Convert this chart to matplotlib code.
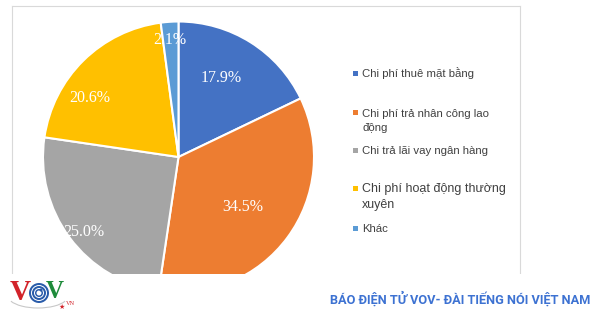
import matplotlib.pyplot as plt
import numpy as np
from matplotlib.patches import Rectangle, Ellipse, Arc
from matplotlib.lines import Line2D

labels = ['Chi phí thuê mặt bằng',
          'Chi phí trả nhân công lao\nđộng',
          'Chi trả lãi vay ngân hàng',
          'Chi phí hoạt động thường\nxuyên',
          'Khác']
shares = [17.9, 34.5, 25.0, 20.6, 2.1]
colors = ['#4472C4', '#ED7D31', '#A5A5A5', '#FFC000', '#5B9BD5']
footer = 'BÁO ĐIỆN TỬ VOV- ĐÀI TIẾNG NÓI VIỆT NAM'

# percentage label placement: (fraction of radius, angle shift from bisector in deg)
label_pos = [(0.66, 3.6), (0.6, -1.5), (0.89, 2.0), (0.785, 11.8), (0.866, 0.4)]
# legend first-line centres (px from top) and font sizes
legend_y = [73, 112, 150, 188, 228]
legend_fs = [8.2, 8.2, 8.2, 9.0, 8.2]

W, H = 600, 315
fig = plt.figure(figsize=(6, 3.15), dpi=100)
fig.patch.set_facecolor('white')


def fx(px):
    return px / W


def fy(py):
    return 1 - py / H


# pie placement in pixels
cx, cy, r = 178.5, 157, 135.5
pad = 1.03
ax = fig.add_axes([fx(cx - r * pad), fy(cy + r * pad), 2 * r * pad / W, 2 * r * pad / H])
wedges, _, autotexts = ax.pie(
    shares, colors=colors, startangle=90, counterclock=False,
    autopct='%.1f%%',
    wedgeprops=dict(edgecolor='white', linewidth=1.5),
    textprops=dict(color='white', family='Liberation Serif', fontsize=11.5))
for w, t, (d, shift), v in zip(wedges, autotexts, label_pos, shares):
    mid = np.deg2rad((w.theta1 + w.theta2) / 2 + shift)
    t.set_position((d * np.cos(mid), d * np.sin(mid)))
    t.set_text(f'{v:.1f}%')
    t.set_ha('center')
    t.set_va('center')
ax.set_xlim(-pad, pad)
ax.set_ylim(-pad, pad)

# chart frame (bottom is cut off by the screenshot)
fc = '#d9d9d9'
fig.add_artist(Line2D([fx(11.5), fx(11.5)], [fy(6), fy(274)], color=fc, lw=0.8))
fig.add_artist(Line2D([fx(11.5), fx(520)], [fy(6), fy(6)], color=fc, lw=0.8))
fig.add_artist(Line2D([fx(520), fx(520)], [fy(6), fy(274)], color=fc, lw=0.8))

# white strip hiding the bottom of the pie
fig.add_artist(Rectangle((0, 0), 1, fy(274), transform=fig.transFigure,
                         facecolor='white', edgecolor='none', zorder=5))

# legend (baseline alignment uses the last line of a wrapped label)
for lab, yy, fs, c in zip(labels, legend_y, legend_fs, colors):
    fig.add_artist(Rectangle((fx(353), fy(yy + 2.5)), 5 / W, 5 / H,
                             transform=fig.transFigure, facecolor=c,
                             edgecolor='none', zorder=6))
    extra = lab.count('\n') * fs * 1.82
    fig.text(fx(362), fy(yy + 4 + extra), lab, ha='left', va='baseline',
             fontsize=fs, family='Liberation Sans', color='#404040',
             linespacing=1.45, zorder=6)

# footer
fig.text(fx(590), fy(299), footer, ha='right', va='center', fontsize=9.2,
         fontweight='bold', family='Roboto', color='#3d72d2', zorder=6)

# VOV logo
fig.text(fx(20), fy(293), 'V', ha='center', va='center', fontsize=21,
         fontweight='bold', family='Liberation Serif', color='#d2232a', zorder=7)
for rr, col in [(10, '#2a5caa'), (8, 'white'), (7, '#2a5caa'), (5, 'white'),
                (4, '#2a5caa'), (2.5, 'white')]:
    fig.add_artist(Ellipse((fx(39), fy(293)), 2 * rr / W, 2 * rr / H,
                           transform=fig.transFigure, facecolor=col,
                           edgecolor='none', zorder=6))
fig.add_artist(Ellipse((fx(41), fy(290)), 3 / W, 3 / H, transform=fig.transFigure,
                       facecolor='#2a5caa', edgecolor='none', zorder=7))
fig.text(fx(55), fy(292), 'V', ha='center', va='center', fontsize=18,
         fontweight='bold', family='Liberation Serif', color='#1e8b3a', zorder=7)
fig.text(fx(62), fy(306.5), '★', ha='center', va='center', fontsize=5,
         family='DejaVu Sans', color='#d2232a', zorder=7)
fig.text(fx(66), fy(303.5), 'VN', ha='left', va='center', fontsize=4.5,
         family='Liberation Serif', color='#d2232a', zorder=7)
fig.add_artist(Arc((fx(38), fy(296)), 60 / W, 24 / H, theta1=200, theta2=340,
                   transform=fig.transFigure, color='#c8c8c8', lw=0.8, zorder=6))

fig.savefig('out.png', dpi=100)
